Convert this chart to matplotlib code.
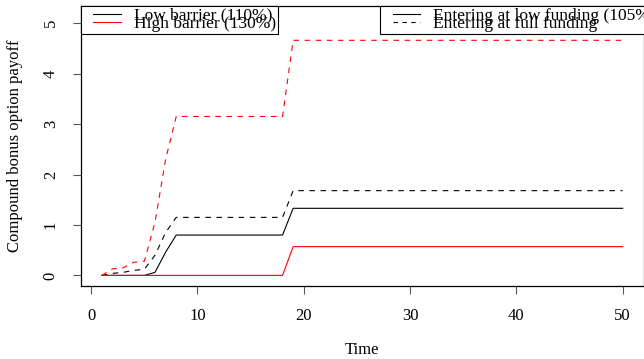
import numpy as np
import matplotlib.pyplot as plt
from matplotlib.lines import Line2D
from matplotlib.legend_handler import HandlerLine2D

plt.rcParams['font.family'] = ['Liberation Serif', 'DejaVu Serif']
plt.rcParams['font.size'] = 12

# payoff paths, time 1..50
time = np.arange(1, 51)
low_lowfund = [0, 0, 0, 0, 0, 0.06, 0.46, 0.80] + [0.80] * 10 + [1.33] * 32
low_fullfund = [0, 0.04, 0.06, 0.10, 0.12, 0.40, 0.85, 1.15] + [1.15] * 10 + [1.68] * 32
high_lowfund = [0] * 18 + [0.57] * 32
high_fullfund = [0, 0.13, 0.15, 0.26, 0.28, 1.05, 2.30, 3.15] + [3.15] * 10 + [4.66] * 32

fig = plt.figure(figsize=(6.44, 3.59), dpi=100)
ax = fig.add_axes([81/644, 1 - 286/359, 562.5/644, 280/359])

ax.plot(time, low_lowfund, color='black', lw=0.8)
ax.plot(time, low_fullfund, color='black', lw=0.8, dashes=(5, 5))
ax.plot(time, high_lowfund, color='red', lw=0.8)
ax.plot(time, high_fullfund, color='red', lw=0.8, dashes=(5, 5))

ax.set_xlim(-0.96, 51.96)
ax.set_ylim(-0.21, 5.34)
ax.set_xticks([0, 10, 20, 30, 40, 50])
ax.set_yticks([0, 1, 2, 3, 4, 5])
ax.tick_params(direction='out', length=6, width=0.8, color='#555555', labelsize=12)
ax.tick_params(axis='x', pad=10)
ax.tick_params(axis='y', pad=10)
for lab in ax.get_yticklabels():
    lab.set_rotation(90)
    lab.set_va('center')
for s in ax.spines.values():
    s.set_linewidth(0.9)

ax.set_xlabel('Time', labelpad=13)
ax.set_ylabel('Compound bonus option payoff', labelpad=14)

hmap = {Line2D: HandlerLine2D(xpad=0.62)}
leg_kw = dict(loc='upper left', borderaxespad=0, labelspacing=-0.45, borderpad=0.1,
              handlelength=2.18, handletextpad=0.78, fancybox=False,
              edgecolor='black', framealpha=1, fontsize=12.5, handler_map=hmap)

h1 = [Line2D([], [], color='black', lw=0.8), Line2D([], [], color='red', lw=0.8)]
leg1 = ax.legend(h1, ['Low barrier (110%)', 'High barrier (130%)'],
                 bbox_to_anchor=(0, 1), **leg_kw)
leg1.get_frame().set_linewidth(0.8)
ax.add_artist(leg1)

h2 = [Line2D([], [], color='black', lw=0.8), Line2D([], [], color='black', lw=0.8, dashes=(4, 4))]
leg2 = ax.legend(h2, ['Entering at low funding (105%)', 'Entering at full funding'],
                 bbox_to_anchor=(299/562.5, 1), **leg_kw)
leg2.get_frame().set_linewidth(0.8)

fig.savefig('out.png', dpi=100)
